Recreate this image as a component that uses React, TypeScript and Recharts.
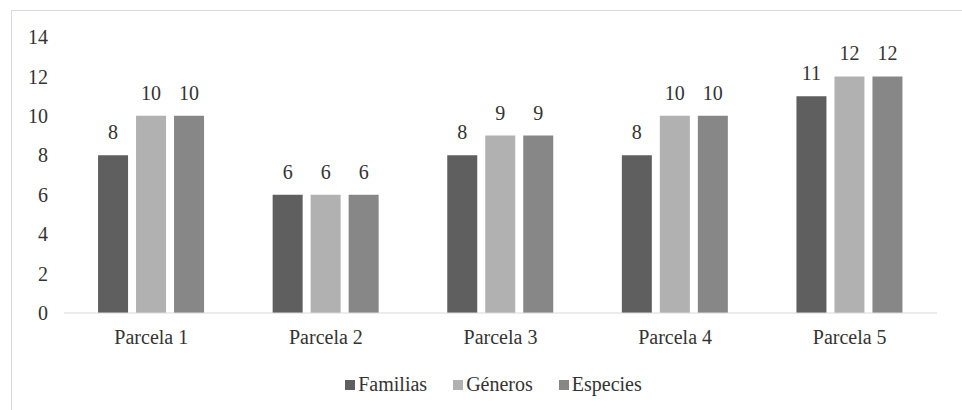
import React from "react";
import { BarChart, Bar, XAxis, YAxis, Legend, LabelList } from "recharts";

const categories: string[] = ["Parcela 1", "Parcela 2", "Parcela 3", "Parcela 4", "Parcela 5"];
const familias: number[] = [8, 6, 8, 8, 11];
const generos: number[] = [10, 6, 9, 10, 12];
const especies: number[] = [10, 6, 9, 10, 12];
const yTicks: number[] = [0, 2, 4, 6, 8, 10, 12, 14];

const SERIES = [
  { key: "familias", name: "Familias", color: "#5f5f5f" },
  { key: "generos", name: "Géneros", color: "#b1b1b1" },
  { key: "especies", name: "Especies", color: "#878787" },
];

const data = categories.map((name, i) => ({
  name,
  familias: familias[i],
  generos: generos[i],
  especies: especies[i],
}));

const FONT = "'Liberation Serif', Tinos, serif";
const TEXT = "#333333";

// legend drawn by hand: small squares, tight icon/text spacing like the original
const LegendContent = () => (
  <div style={{ display: "flex", justifyContent: "center", fontFamily: FONT, fontSize: 20, color: TEXT, paddingLeft: 76 }}>
    {SERIES.map((s) => (
      <span key={s.key} style={{ display: "inline-flex", alignItems: "center", marginRight: 26 }}>
        <span style={{ width: 10, height: 10, background: s.color, display: "inline-block", marginRight: 3 }} />
        {s.name}
      </span>
    ))}
  </div>
);

const App: React.FC = () => (
  <div style={{ position: "absolute", left: 0, top: 0, width: 962, height: 410, background: "#fff", overflow: "hidden", fontFamily: FONT }}>
    <div style={{ position: "absolute", left: 11, top: 10, width: 960, height: 420, border: "1px solid #d9d9d9" }} />
    <div style={{ position: "absolute", left: 0, top: 0 }}>
      <BarChart
        width={962}
        height={410}
        data={data}
        margin={{ top: 37, right: 25, left: 0, bottom: 17 }}
        barCategoryGap="19.5%"
        barGap={8}
      >
        <XAxis
          dataKey="name"
          height={60}
          axisLine={{ stroke: "#d9d9d9" }}
          tickLine={false}
          tickMargin={11}
          tick={{ fill: TEXT, fontFamily: FONT, fontSize: 20 }}
        />
        <YAxis
          width={64}
          domain={[0, 14]}
          ticks={yTicks}
          axisLine={false}
          tickLine={false}
          tickMargin={10}
          tick={{ fill: TEXT, fontFamily: FONT, fontSize: 20 }}
        />
        <Legend verticalAlign="bottom" height={20} content={<LegendContent />} />
        {SERIES.map((s) => (
          <Bar key={s.key} dataKey={s.key} name={s.name} fill={s.color} isAnimationActive={false}>
            <LabelList dataKey={s.key} position="top" offset={16} fill={TEXT} fontFamily={FONT} fontSize={20} />
          </Bar>
        ))}
      </BarChart>
    </div>
  </div>
);

export default App;
